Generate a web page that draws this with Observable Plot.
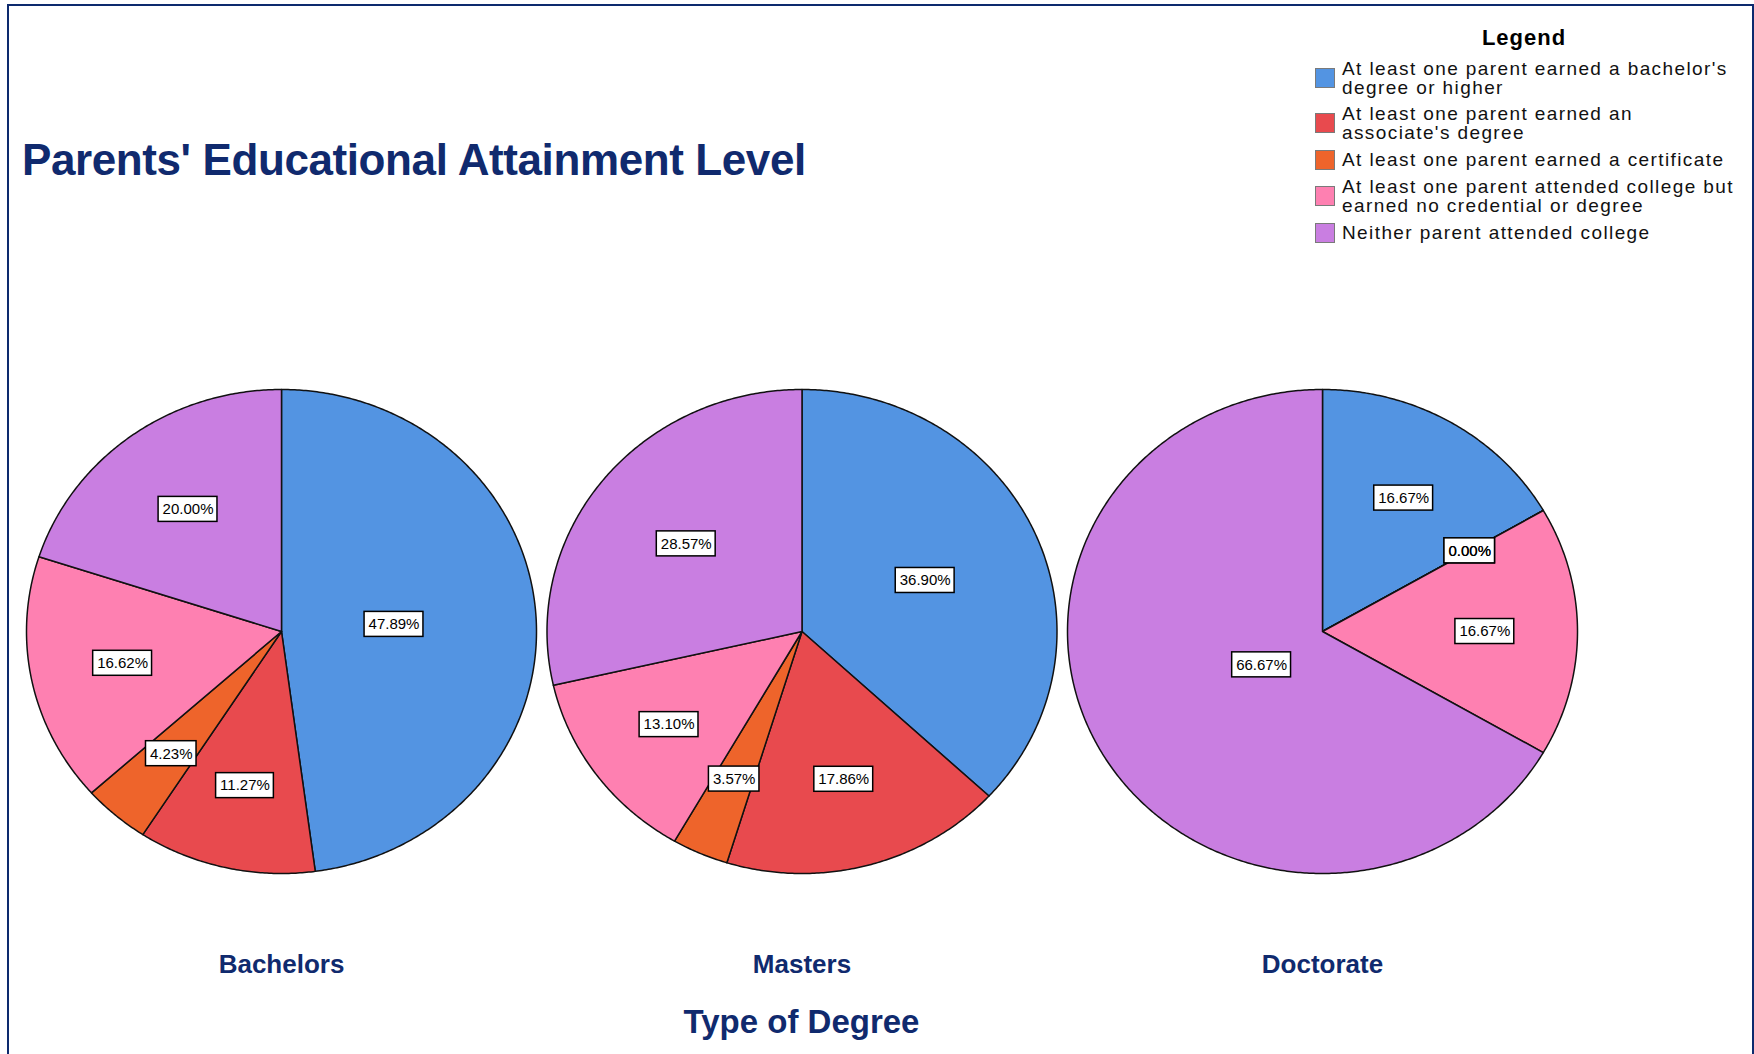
<!DOCTYPE html>
<html>
<head>
<meta charset="utf-8">
<script src="https://cdn.jsdelivr.net/npm/d3@7"></script>
<script src="https://cdn.jsdelivr.net/npm/@observablehq/plot@0.6"></script>
<style>
  html, body { margin: 0; padding: 0; background: #fff; }
  #page { position: relative; width: 1754px; height: 1054px; overflow: hidden;
          font-family: "Liberation Sans", Arial, sans-serif; background: #fff; }
  #frame { position: absolute; left: 7px; top: 4px; width: 1746.5px; height: 1100px;
           border: 2px solid #0d2a6e; box-sizing: border-box; }
  #title { position: absolute; left: 22px; top: 138.4px; font-size: 44px; line-height: 44px;
           font-weight: bold; color: #102a6e; letter-spacing: -0.4px; white-space: nowrap; }
  #legendTitle { position: absolute; left: 1424px; top: 27px; width: 200px; text-align: center;
                 font-size: 22px; line-height: 22px; font-weight: bold; color: #000; letter-spacing: 1px; }
  #legend { position: absolute; left: 1315px; top: 58.9px; }
  .item { display: flex; align-items: center; margin-bottom: 7.5px; }
  .sw { width: 20px; height: 20px; box-sizing: border-box; border: 1px solid #7a7a7a; margin-right: 7px; flex: none; }
  .lab { width: 400px; font-size: 19px; line-height: 19px; letter-spacing: 1.4px; color: #111; }
  #chart { position: absolute; left: 0; top: 300px; }
  #caption { position: absolute; left: 20.75px; width: 1561.5px; top: 1005px; text-align: center;
             font-size: 33px; line-height: 33px; font-weight: bold; color: #102a6e; }
</style>
</head>
<body>
<div id="page">
  <div id="frame"></div>
  <div id="title"></div>
  <div id="legendTitle"></div>
  <div id="legend"></div>
  <div id="chart"></div>
  <div id="caption"></div>
</div>
<script>
// ---------------- data ----------------
const chartTitle = "Parents' Educational Attainment Level";
const legendTitle = "Legend";
const axisTitle = "Type of Degree";
const degrees = ["Bachelors", "Masters", "Doctorate"];
const categories = [
  "At least one parent earned a bachelor's degree or higher",
  "At least one parent earned an associate's degree",
  "At least one parent earned a certificate",
  "At least one parent attended college but earned no credential or degree",
  "Neither parent attended college"
];
const colors = ["#5394e2", "#e84a4e", "#ee642b", "#fe80b1", "#c97ee1"];
const bachelors = [47.89, 11.27, 4.23, 16.62, 20.00];
const masters   = [36.90, 17.86, 3.57, 13.10, 28.57];
const doctorate = [16.67, 0.00, 0.00, 16.67, 66.67];

// ---------------- layout constants ----------------
const navy = "#102a6e";
const W = 1754, H = 700;
const marginLeft = 20.75, marginRight = 171.75, marginTop = 89, marginBottom = 127;
const bandW = (W - marginLeft - marginRight) / degrees.length;
const RX = 255;                     // horizontal pie radius in px
const RY = H - marginTop - marginBottom; // full y span (2*ry)
const RYpx = RY / 2;
const xInset = (bandW - 2 * RX) / 2;
const labelFont = 15, boxPadX = 4, boxH = 25;

// ---------------- html text ----------------
document.getElementById("title").textContent = chartTitle;
document.getElementById("legendTitle").textContent = legendTitle;
document.getElementById("caption").textContent = axisTitle;
const legend = d3.select("#legend");
categories.forEach((c, i) => {
  const it = legend.append("div").attr("class", "item");
  it.append("div").attr("class", "sw").style("background", colors[i]);
  it.append("div").attr("class", "lab").text(c);
});

// ---------------- build slices ----------------
const seriesByDegree = {Bachelors: bachelors, Masters: masters, Doctorate: doctorate};
const ctx = document.createElement("canvas").getContext("2d");
ctx.font = `${labelFont}px "Liberation Sans", Arial, sans-serif`;

const pts = [];
const slices = [];
for (const deg of degrees) {
  const vals = seriesByDegree[deg];
  const total = d3.sum(vals);
  let acc = 0;
  vals.forEach((v, i) => {
    const a0 = acc / total * 2 * Math.PI;
    acc += v;
    const a1 = acc / total * 2 * Math.PI;
    const key = deg + "|" + i;
    const base = {degree: deg, category: categories[i], key};
    pts.push({...base, x: 0, y: 0});
    const n = Math.max(1, Math.ceil((a1 - a0) / (Math.PI / 360)));
    for (let k = 0; k <= n; k++) {
      const a = a0 + (a1 - a0) * k / n;
      pts.push({...base, x: Math.sin(a), y: Math.cos(a)});
    }
    pts.push({...base, x: 0, y: 0});
    const half = (a1 - a0) / 2, mid = a0 + half;
    const d = half < 1e-9 ? 2 / 3 : 2 * Math.sin(half) / (3 * half);
    const label = v.toFixed(2) + "%";
    const tw = ctx.measureText(label).width + 2 * boxPadX;
    slices.push({
      degree: deg, category: categories[i], value: v, label,
      lx: d * Math.sin(mid), ly: d * Math.cos(mid),
      hw: tw / 2 / RX, hh: boxH / 2 / RYpx
    });
  });
}

// ---------------- plot ----------------
const chart = Plot.plot({
  width: W, height: H,
  marginLeft, marginRight, marginTop, marginBottom,
  style: {background: "transparent", fontFamily: "'Liberation Sans', Arial, sans-serif", overflow: "visible"},
  fx: {domain: degrees, padding: 0, round: false},
  x: {domain: [-1, 1], axis: null, inset: xInset},
  y: {domain: [-1, 1], axis: null},
  color: {domain: categories, range: colors},
  marks: [
    Plot.line(pts, {fx: "degree", x: "x", y: "y", z: "key", fill: "category",
      stroke: "#111", strokeWidth: 1.5, strokeLinejoin: "round", curve: "linear"}),
    Plot.rect(slices, {fx: "degree",
      x1: d => d.lx - d.hw, x2: d => d.lx + d.hw,
      y1: d => d.ly - d.hh, y2: d => d.ly + d.hh,
      fill: "white", stroke: "#000", strokeWidth: 1.5}),
    Plot.text(slices, {fx: "degree", x: "lx", y: "ly", text: "label",
      fontSize: labelFont, fill: "#000"}),
    Plot.axisFx({anchor: "bottom", tickSize: 0, tickPadding: 81, label: null,
      fontSize: 26, fontWeight: "bold", fill: navy})
  ]
});
document.getElementById("chart").appendChild(chart);
</script>
</body>
</html>
